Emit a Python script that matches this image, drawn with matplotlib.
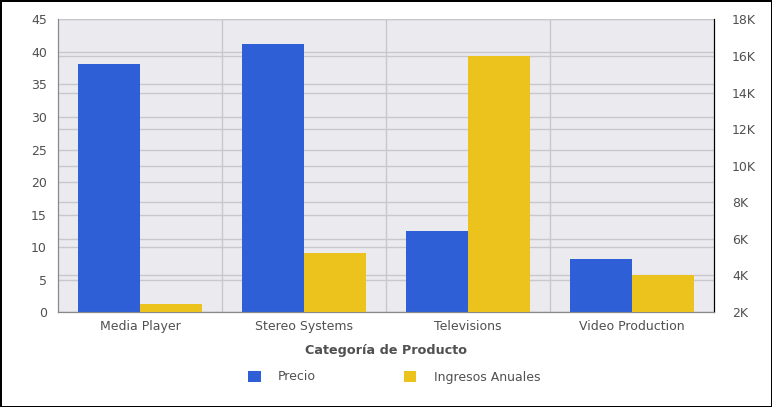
import matplotlib.pyplot as plt
import matplotlib.transforms as mtransforms

# data
categories = ['Media Player', 'Stereo Systems', 'Televisions', 'Video Production']
precio = [38.2, 41.2, 12.4, 8.1]
ingresos = [2440, 5220, 15980, 4020]
left_ticks = [0, 5, 10, 15, 20, 25, 30, 35, 40, 45]
right_ticks = [2000, 4000, 6000, 8000, 10000, 12000, 14000, 16000, 18000]
right_labels = ['2K', '4K', '6K', '8K', '10K', '12K', '14K', '16K', '18K']

blue = '#2f5fd6'
yellow = '#ecc31d'
grid_c = '#c8c8cc'
txt = '#505050'

plt.rcParams['font.family'] = 'DejaVu Sans'

fig = plt.figure(figsize=(7.72, 4.07), dpi=100)
fig.patch.set_edgecolor('black')
fig.patch.set_linewidth(2)
ax = fig.add_axes([0.0751, 0.2334, 0.8498, 0.7187])
ax2 = ax.twinx()

ax.set_facecolor('#ebeaef')
ax.set_xlim(-0.5, len(categories) - 0.5)
ax.set_ylim(0, 45)
ax2.set_ylim(2000, 18000)

w = 0.38
x = list(range(len(categories)))
ax.bar([i - w / 2 for i in x], precio, width=w, color=blue, zorder=3, label='Precio')
ax2.bar([i + w / 2 for i in x], ingresos, width=w, color=yellow, zorder=3, label='Ingresos Anuales')

# gridlines for both y axes, drawn under the bars
ax.set_yticks(left_ticks)
ax.set_xticks([0.5, 1.5, 2.5], minor=True)
ax.grid(True, which='major', axis='y', color=grid_c, lw=1, zorder=0)
ax.grid(True, which='minor', axis='x', color=grid_c, lw=1, zorder=0)
trans = mtransforms.blended_transform_factory(ax.transAxes, ax2.transData)
for v in right_ticks:
    ax.plot([0, 1], [v, v], transform=trans, color=grid_c, lw=1, zorder=0)
ax.set_axisbelow(True)

ax.set_xticks(x)
ax.set_xticklabels(categories)
ax.tick_params(axis='x', which='both', length=0, pad=6, labelsize=9, labelcolor=txt)
ax.tick_params(axis='y', length=0, pad=8, labelsize=9, labelcolor=txt)
ax2.set_yticks(right_ticks)
ax2.set_yticklabels(right_labels)
ax2.tick_params(axis='y', length=0, pad=13, labelsize=9, labelcolor=txt)

for a in (ax, ax2):
    a.spines['top'].set_visible(False)
    a.spines['left'].set_color('#888888')
    a.spines['bottom'].set_color('#888888')
    a.spines['right'].set_color('black')

ax.set_xlabel('Categoría de Producto', fontsize=9.2, fontweight='bold', color=txt, labelpad=8)

h1, l1 = ax.get_legend_handles_labels()
h2, l2 = ax2.get_legend_handles_labels()
fig.legend(h1 + h2, l1 + l2, loc='center', bbox_to_anchor=(0.5 + 8 / 772, (407 - 377) / 407),
           ncol=2, frameon=False, fontsize=9, labelcolor=txt,
           handlelength=1, handleheight=1, handletextpad=1.4, columnspacing=7)

fig.savefig('out.png', dpi=100)
